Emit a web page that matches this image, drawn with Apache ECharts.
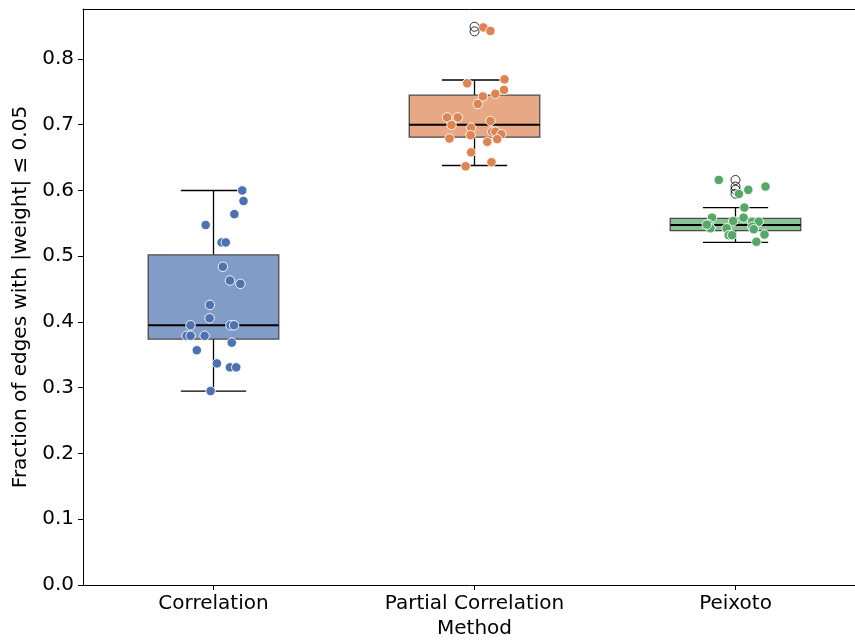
<!DOCTYPE html>
<html>
<head>
<meta charset="utf-8">
<script src="https://cdn.jsdelivr.net/npm/echarts@6/dist/echarts.min.js"></script>
<style>html,body{margin:0;padding:0;background:#fff}#c{width:855px;height:642px}</style>
</head>
<body>
<div id="c"></div>
<script>
// Categories
var categories = ['Correlation', 'Partial Correlation', 'Peixoto'];
// Box statistics: [whiskerLow, Q1, median, Q3, whiskerHigh]
var boxCorrelation = [0.295, 0.374, 0.395, 0.502, 0.600];
var boxPartial = [0.638, 0.681, 0.700, 0.745, 0.768];
var boxPeixoto = [0.521, 0.539, 0.5475, 0.5577, 0.574];
// Fliers
var fliersPartial = [0.849, 0.842];
var fliersPeixoto = [0.616, 0.606, 0.601, 0.595];
// Strip points: values and horizontal jitter offsets (category units)
var corrValues = [0.600, 0.584, 0.564, 0.5475, 0.521, 0.521, 0.484, 0.463, 0.458, 0.426, 0.4056, 0.395, 0.395, 0.395, 0.379, 0.379, 0.379, 0.3686, 0.357, 0.337, 0.331, 0.331, 0.295];
var corrJitter = [0.11, 0.115, 0.08, -0.03, 0.031, 0.047, 0.036, 0.063, 0.103, -0.014, -0.015, -0.088, 0.065, 0.079, -0.103, -0.088, -0.034, 0.07, -0.064, 0.013, 0.063, 0.087, -0.011];
var partialValues = [0.848, 0.8426, 0.763, 0.769, 0.753, 0.747, 0.743, 0.7316, 0.711, 0.711, 0.6996, 0.7057, 0.6955, 0.684, 0.679, 0.6895, 0.6895, 0.6855, 0.678, 0.674, 0.658, 0.6368, 0.643];
var partialJitter = [0.034, 0.061, -0.028, 0.115, 0.113, 0.08, 0.032, 0.013, -0.105, -0.064, -0.088, 0.061, -0.013, -0.015, -0.096, 0.068, 0.08, 0.103, 0.087, 0.049, -0.013, -0.034, 0.065];
var peixotoValues = [0.616, 0.606, 0.601, 0.5947, 0.574, 0.5587, 0.5587, 0.5486, 0.5536, 0.5525, 0.5525, 0.5425, 0.5425, 0.545, 0.541, 0.532, 0.532, 0.533, 0.522, 0.548];
var peixotoJitter = [-0.064, 0.115, 0.049, 0.013, 0.034, -0.09, 0.031, -0.103, -0.009, 0.064, 0.089, -0.096, -0.034, 0.064, 0.07, -0.026, -0.013, 0.111, 0.08, -0.11];
// Axis tick values
var yTicks = [0, 0.1, 0.2, 0.3, 0.4, 0.5, 0.6, 0.7, 0.8];
var xTicks = [0, 1, 2];

var colors = ['#4c72b0', '#dd8452', '#55a868'];
var boxFills = ['#829cc8', '#e7a985', '#88c295'];

var boxes = [boxCorrelation, boxPartial, boxPeixoto];
var boxData = boxes.map(function (b, i) { return [i].concat(b); });

function pts(vals, jit, idx) {
  return vals.map(function (v, k) { return [idx + jit[k], v]; });
}
var flierData = [];
fliersPartial.forEach(function (v) { flierData.push([1, v]); });
fliersPeixoto.forEach(function (v) { flierData.push([2, v]); });

var font = 'DejaVu Sans';
var fs = 20;
var chart = echarts.init(document.getElementById('c'), null, {renderer: 'canvas'});
chart.setOption({
  animation: false,
  backgroundColor: '#fff',
  grid: {left: 83, top: 9, width: 783, height: 576, show: false,
    outerBoundsMode: 'none', containLabel: false},
  xAxis: [{
    type: 'value', min: -0.5, max: 2.5,
    name: 'Method', nameLocation: 'middle', nameGap: 33,
    nameTextStyle: {color: '#000', fontSize: fs, fontFamily: font},
    axisLine: {show: true, onZero: false, lineStyle: {color: '#000', width: 1}},
    axisTick: {show: true, customValues: xTicks, length: 5, lineStyle: {color: '#000'}},
    axisLabel: {customValues: xTicks, margin: 9, color: '#000', fontSize: fs, fontFamily: font,
      formatter: function (v) { return categories[Math.round(v)]; }},
    splitLine: {show: false}
  }, {
    type: 'value', position: 'top', min: -0.5, max: 2.5,
    axisLine: {show: true, onZero: false, lineStyle: {color: '#000', width: 1}},
    axisTick: {show: false}, axisLabel: {show: false}, splitLine: {show: false}
  }],
  yAxis: {
    type: 'value', min: 0, max: 0.876,
    name: 'Fraction of edges with |weight| \u2264 0.05', nameLocation: 'middle', nameGap: 51,
    nameTextStyle: {color: '#000', fontSize: fs, fontFamily: font},
    axisLine: {show: true, onZero: false, lineStyle: {color: '#000', width: 1}},
    axisTick: {show: true, customValues: yTicks, length: 5, lineStyle: {color: '#000'}},
    axisLabel: {customValues: yTicks, margin: 9, color: '#000', fontSize: fs, fontFamily: font,
      formatter: function (v) { return v.toFixed(1); }},
    splitLine: {show: false}
  },
  series: [
    {
      type: 'custom', z: 2,
      data: boxData,
      renderItem: function (params, api) {
        var i = api.value(0);
        var lo = api.coord([i, api.value(1)]);
        var q1 = api.coord([i, api.value(2)]);
        var md = api.coord([i, api.value(3)]);
        var q3 = api.coord([i, api.value(4)]);
        var hi = api.coord([i, api.value(5)]);
        var hw = api.size([0.5, 0])[0] / 2;
        var cw = hw / 2;
        var cx = q1[0];
        var idx = params.dataIndex;
        var wl = {stroke: '#000', lineWidth: 1.3};
        return {
          type: 'group',
          children: [
            {type: 'line', shape: {x1: cx, y1: q3[1], x2: cx, y2: hi[1]}, style: wl},
            {type: 'line', shape: {x1: cx, y1: q1[1], x2: cx, y2: lo[1]}, style: wl},
            {type: 'line', shape: {x1: cx - cw, y1: hi[1], x2: cx + cw, y2: hi[1]}, style: wl},
            {type: 'line', shape: {x1: cx - cw, y1: lo[1], x2: cx + cw, y2: lo[1]}, style: wl},
            {type: 'rect', shape: {x: cx - hw, y: q3[1], width: 2 * hw, height: q1[1] - q3[1]},
              style: {fill: boxFills[idx], stroke: '#4a4a4a', lineWidth: 1.3}},
            {type: 'line', shape: {x1: cx - hw, y1: md[1], x2: cx + hw, y2: md[1]}, style: {stroke: '#000', lineWidth: 2.2}}
          ]
        };
      }
    },
    {
      type: 'scatter', z: 3, symbol: 'circle', symbolSize: 9,
      data: flierData,
      itemStyle: {color: 'rgba(0,0,0,0)', borderColor: '#000', borderWidth: 1}
    },
    {
      type: 'scatter', z: 4, symbolSize: 9.5, data: pts(corrValues, corrJitter, 0),
      itemStyle: {color: colors[0], borderColor: '#fff', borderWidth: 0.9, opacity: 1}
    },
    {
      type: 'scatter', z: 4, symbolSize: 9.5, data: pts(partialValues, partialJitter, 1),
      itemStyle: {color: colors[1], borderColor: '#fff', borderWidth: 0.9, opacity: 1}
    },
    {
      type: 'scatter', z: 4, symbolSize: 9.5, data: pts(peixotoValues, peixotoJitter, 2),
      itemStyle: {color: colors[2], borderColor: '#fff', borderWidth: 0.9, opacity: 1}
    }
  ]
});
</script>
</body>
</html>
